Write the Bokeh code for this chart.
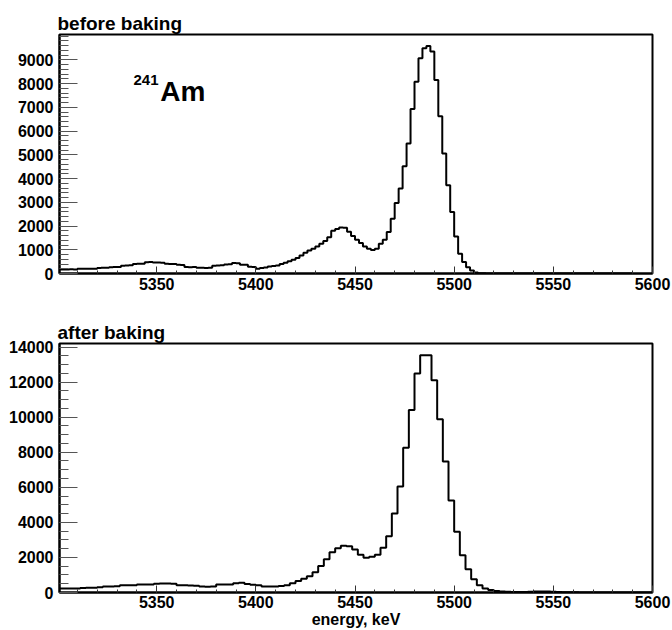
import numpy as np
from bokeh.plotting import figure
from bokeh.layouts import column
from bokeh.models import Range1d, FixedTicker, Label
from bokeh.embed import file_html
from bokeh.resources import INLINE

# ---------------- data ----------------
# "before baking": 150 bins of 2 keV starting at 5300 keV
before_start = 5300.0
before_width = 2.0
before_counts = [
    170, 165, 170, 175, 170, 195, 200, 195, 200, 200,
    235, 240, 245, 265, 270, 275, 330, 340, 345, 400,
    410, 415, 470, 480, 465, 460, 455, 410, 405, 400,
    370, 360, 275, 265, 270, 245, 240, 235, 245, 330,
    340, 345, 380, 385, 440, 430, 370, 365, 280, 270,
    205, 235, 250, 290, 320, 340, 400, 450, 520, 580,
    650, 760, 870, 970, 1040, 1140, 1250, 1370, 1530, 1800,
    1880, 1940, 1930, 1760, 1580, 1420, 1280, 1140, 1040, 990,
    1040, 1250, 1420, 1750, 2310,
    2970, 3580, 4520, 5480, 6930, 8080, 9070, 9490, 9590, 9350,
    8150, 6630, 5060, 3720, 2590, 1560, 830, 480, 266, 127,
    42, 15, 8, 5, 4, 3, 3, 2, 2, 2,
    2, 1, 1, 1, 1, 1, 0, 1, 0, 0,
    0, 0, 0, 0, 0, 0, 0, 0, 0, 0,
    0, 0, 0, 0, 0, 0, 0, 0, 0, 0,
]

# "after baking": 105 bins from 5300 to 5600 keV
after_start = 5300.0
after_width = 300.0 / 105
after_counts = [
    227, 227, 230, 235, 260, 265, 270, 300, 340, 345,
    350, 410, 415, 420, 450, 455, 460, 500, 510, 510,
    500, 420, 410, 400, 380, 340, 330, 345, 450, 455,
    460, 530, 550, 490, 440,
    414, 340, 340, 340, 370, 414, 528, 650, 790, 930,
    1150, 1510, 1900, 2300, 2520, 2660, 2640, 2450, 2150, 1980,
    2040, 2150, 2555, 3213, 4500, 6052, 8250, 10406, 12489, 13529,
    13529, 12109, 9878, 7471, 5240, 3463, 2118, 1323, 755, 414,
    227, 148, 90, 60, 40, 30, 25, 30, 45, 55,
    60, 55, 40, 25, 15, 10, 8, 6, 5, 4,
    3, 3, 2, 2, 2, 1, 1, 1, 1, 1,
]

x_ticks = [5350, 5400, 5450, 5500, 5550, 5600]
x_minor = list(range(5310, 5601, 10))
top_y_ticks = [0, 1000, 2000, 3000, 4000, 5000, 6000, 7000, 8000, 9000]
top_y_minor = list(range(0, 10001, 200))
bot_y_ticks = [0, 2000, 4000, 6000, 8000, 10000, 12000, 14000]
bot_y_minor = list(range(0, 14001, 500))

FONT = "Liberation Sans"


def step_xy(start, width, counts):
    n = len(counts)
    xs = [start + i * width for i in range(n + 1)]
    ys = list(counts) + [counts[-1]]
    return xs, ys


def style(p, title, x_tick_len, y_tick_len):
    p.title.text = title
    p.title.align = "left"
    p.title.text_font = FONT
    p.title.text_font_size = "19px"
    p.title.text_font_style = "bold"
    p.title.text_color = "black"
    p.title.standoff = 2
    p.title.offset = -2
    p.grid.visible = False
    p.outline_line_color = "black"
    p.outline_line_width = 2
    p.background_fill_color = "white"
    p.border_fill_color = "white"
    for ax in p.xaxis:
        ax.ticker = FixedTicker(ticks=x_ticks, minor_ticks=x_minor)
        ax.major_tick_in = x_tick_len
        ax.major_tick_out = 0
        ax.minor_tick_in = x_tick_len // 2
        ax.minor_tick_out = 0
        ax.axis_line_width = 2
        ax.axis_line_color = "black"
        ax.major_tick_line_color = "#333333"
        ax.minor_tick_line_color = "#333333"
        ax.major_label_text_font = FONT
        ax.major_label_text_font_size = "16px"
        ax.major_label_text_font_style = "bold"
        ax.major_label_text_color = "black"
        ax.major_label_standoff = 4
    for ax in p.yaxis:
        ax.major_tick_in = y_tick_len
        ax.major_tick_out = 0
        ax.minor_tick_in = y_tick_len // 2
        ax.minor_tick_out = 0
        ax.axis_line_width = 2
        ax.axis_line_color = "black"
        ax.major_tick_line_color = "#555555"
        ax.minor_tick_line_color = "#555555"
        ax.major_label_text_font = FONT
        ax.major_label_text_font_size = "16px"
        ax.major_label_text_font_style = "bold"
        ax.major_label_text_color = "black"
        ax.major_label_standoff = 6


# ---------------- top panel ----------------
p1 = figure(width=672, height=300, x_range=Range1d(5301, 5600), y_range=Range1d(0, 10070),
            output_backend="svg", toolbar_location=None,
            min_border_left=59, min_border_right=20, min_border_top=34, min_border_bottom=27)
style(p1, "before baking", 7, 18)
p1.yaxis[0].ticker = FixedTicker(ticks=top_y_ticks, minor_ticks=top_y_minor)
xs, ys = step_xy(before_start, before_width, before_counts)
p1.step(x=xs, y=ys, mode="after", line_color="black", line_width=2)

p1.add_layout(Label(x=5338.3, y=8150, text="241", text_font=FONT, text_font_size="15px",
                    text_font_style="bold", text_color="black", text_align="left",
                    text_baseline="alphabetic"))
p1.add_layout(Label(x=5351.8, y=7650, text="Am", text_font=FONT, text_font_size="28px",
                    text_font_style="bold", text_color="black", text_align="left",
                    text_baseline="alphabetic"))

# ---------------- bottom panel ----------------
p2 = figure(width=672, height=330, x_range=Range1d(5301, 5600), y_range=Range1d(0, 14200),
            output_backend="svg", toolbar_location=None,
            min_border_left=59, min_border_right=20, min_border_top=43, min_border_bottom=37)
style(p2, "after baking", 7, 18)
p2.yaxis[0].ticker = FixedTicker(ticks=bot_y_ticks, minor_ticks=bot_y_minor)
p2.xaxis[0].axis_label = "energy, keV"
p2.xaxis[0].axis_label_text_font = FONT
p2.xaxis[0].axis_label_text_font_size = "16px"
p2.xaxis[0].axis_label_text_font_style = "bold"
p2.xaxis[0].axis_label_text_color = "black"
p2.xaxis[0].axis_label_standoff = 0
p2.xaxis[0].major_label_standoff = 3
xs2, ys2 = step_xy(after_start, after_width, after_counts)
p2.step(x=xs2, y=ys2, mode="after", line_color="black", line_width=2)

layout = column(p1, p2, spacing=0)
open("out.html", "w").write(file_html(layout, INLINE))
